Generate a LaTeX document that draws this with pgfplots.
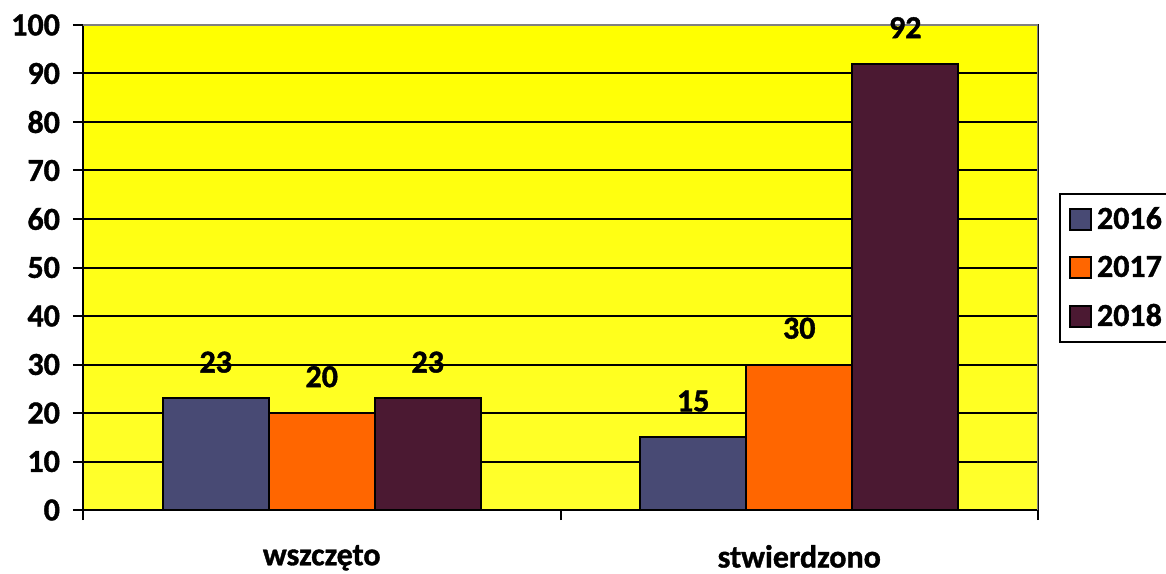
\documentclass[border=0pt]{standalone}
\usepackage{fontspec}
\setmainfont{Carlito}[BoldFeatures={FakeBold=1.2}]
\usepackage{pgfplots}
\pgfplotsset{compat=1.18}
\definecolor{c16}{RGB}{72,74,116}
\definecolor{c17}{RGB}{255,102,0}
\definecolor{c18}{RGB}{75,25,50}
\definecolor{bgy}{RGB}{255,255,0}
\definecolor{bgy2}{RGB}{255,255,45}
\begin{document}
\begin{tikzpicture}
\begin{axis}[
  at={(0,0)}, anchor=south west,
  scale only axis, width=477.5pt, height=242.5pt,
  ybar=0pt, bar width=53pt,
  xmin=-0.5, xmax=1.5, ymin=0, ymax=100,
  xtick={-0.5,0.5,1.5}, xticklabels={,,},
  extra x ticks={0,1}, extra x tick labels={wszczęto,stwierdzono},
  extra x tick style={major tick length=0pt, xticklabel style={yshift=-14pt}},
  ytick={0,10,...,100},
  yticklabel style={xshift=-3pt},
  ymajorgrids, grid style={black, line width=1pt},
  tick pos=left, tick align=outside, major tick length=5pt,
  tick style={black, line width=1pt},
  axis line style={black, line width=1pt},
  /pgf/number format/assume math mode=true,
  ticklabel style={font=\bfseries\fontsize{16}{16}\selectfont},
  axis background/.style={shade, top color=bgy, middle color=bgy, bottom color=bgy2},
  nodes near coords,
  every node near coord/.append style={font=\bfseries\fontsize{16}{16}\selectfont, black, yshift=9pt},
  legend style={at={(axis description cs:1.022,0.6536)}, anchor=north west,
    draw=black, line width=1pt, font=\bfseries\fontsize{16}{16}\selectfont,
    row sep=8pt, inner ysep=4.5pt, inner xsep=4.5pt},
  legend cell align=left,
  legend image code/.code={\draw[#1, line width=1pt] (0pt,-5.25pt) rectangle (10.5pt,5.25pt); \path (11pt,0pt);},
]
\addplot[fill=c16, draw=black, line width=1pt] coordinates {(0,23) (1,15)};
\addplot[fill=c17, draw=black, line width=1pt] coordinates {(0,20) (1,30)};
\addplot[fill=c18, draw=black, line width=1pt] coordinates {(0,23) (1,92)};
\legend{2016,2017,2018}
\draw[gray, line width=1pt] (rel axis cs:0,1) -- (rel axis cs:1,1) -- (rel axis cs:1,0);
\end{axis}
\pgfresetboundingbox
\useasboundingbox (-41.5pt,-31.5pt) rectangle (541.5pt,255pt);
\end{tikzpicture}
\end{document}
